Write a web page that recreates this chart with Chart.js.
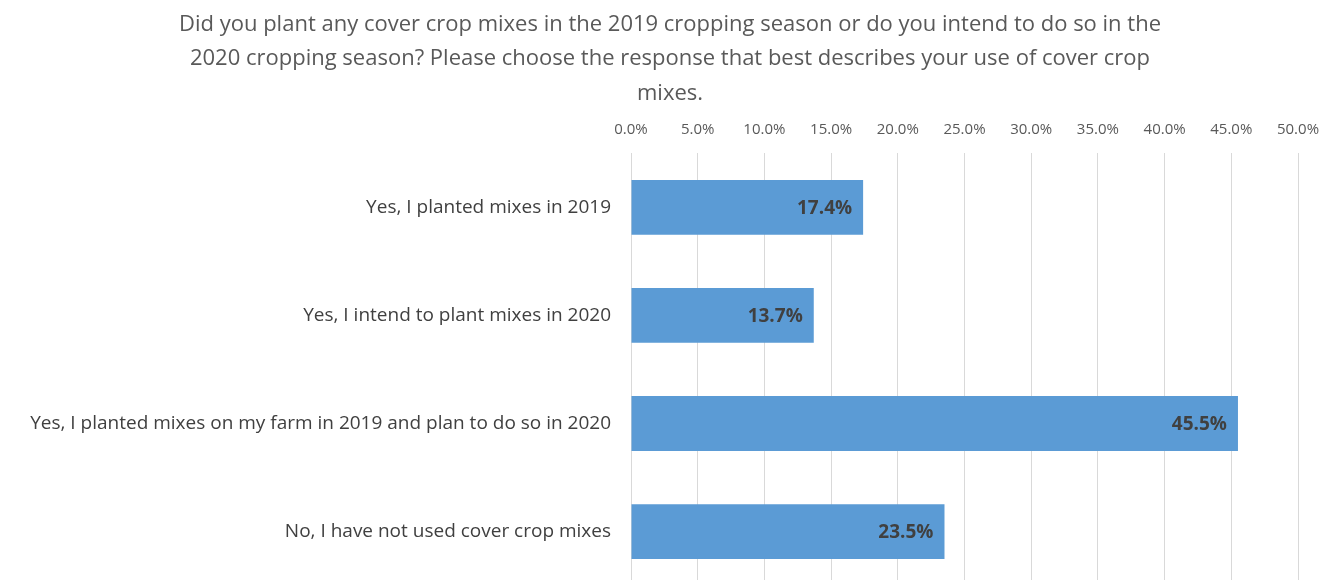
<html>
  <head>
    <title>Cover crop mixes</title>
    <style>
      body { margin: 0; overflow: hidden; background: #fff; }
    </style>
  </head>
  <body>
    <canvas id="myChart" width="1322" height="617"></canvas>
  </body>
</html>

<script src="https://cdn.jsdelivr.net/npm/chart.js"></script>
<script>
  const titleLines = [
    'Did you plant any cover crop mixes in the 2019 cropping season or do you intend to do so in the',
    '2020 cropping season? Please choose the response that best describes your use of cover crop',
    'mixes.'
  ];
  const categories = [
    'Yes, I planted mixes in 2019',
    'Yes, I intend to plant mixes in 2020',
    'Yes, I planted mixes on my farm in 2019 and plan to do so in 2020',
    'No, I have not used cover crop mixes'
  ];
  const percentValues = [17.4, 13.7, 45.5, 23.5];

  const fontName = "'Open Sans', 'Liberation Sans', sans-serif";

  // labels drawn inside the end of each bar
  const barLabels = {
    id: 'barLabels',
    afterDatasetsDraw(chart) {
      const ctx = chart.ctx;
      const meta = chart.getDatasetMeta(0);
      ctx.save();
      ctx.font = 'bold 19px ' + fontName;
      ctx.fillStyle = '#404040';
      ctx.textAlign = 'right';
      ctx.textBaseline = 'middle';
      meta.data.forEach(function(bar, i) {
        ctx.fillText(percentValues[i].toFixed(1) + '%', bar.x - 11, bar.y + 1);
      });
      ctx.restore();
    }
  };

  const ctx = document.getElementById('myChart').getContext('2d');
  const myChart = new Chart(ctx, {
    type: 'bar',
    data: {
      labels: categories,
      datasets: [{
        data: percentValues,
        backgroundColor: '#5B9BD5',
        borderWidth: 0,
        barPercentage: 0.507,
        categoryPercentage: 1
      }]
    },
    options: {
      indexAxis: 'y',
      responsive: false,
      animation: false,
      layout: { padding: { left: 18, right: 0, top: 8, bottom: 5 } },
      scales: {
        x: {
          position: 'top',
          min: 0,
          max: 50,
          border: { display: false },
          grid: { color: '#d9d9d9', lineWidth: 1, drawTicks: false },
          ticks: {
            stepSize: 5,
            padding: 15,
            color: '#595959',
            font: { family: fontName, size: 15 },
            callback: function(v) { return v.toFixed(1) + '%'; }
          },
          afterFit: function(scale) { scale.paddingRight = 24; }
        },
        y: {
          border: { display: false },
          grid: { display: false, drawTicks: false },
          ticks: {
            padding: 20,
            color: '#404040',
            font: { family: fontName, size: 19 }
          },
          afterFit: function(scale) { scale.width = 613; }
        }
      },
      plugins: {
        legend: { display: false },
        tooltip: { enabled: false },
        title: {
          display: true,
          text: titleLines,
          color: '#595959',
          font: { family: fontName, size: 22, weight: 'normal', lineHeight: 1.55 },
          padding: { top: 0, bottom: -5 }
        }
      }
    },
    plugins: [barLabels]
  });
</script>
